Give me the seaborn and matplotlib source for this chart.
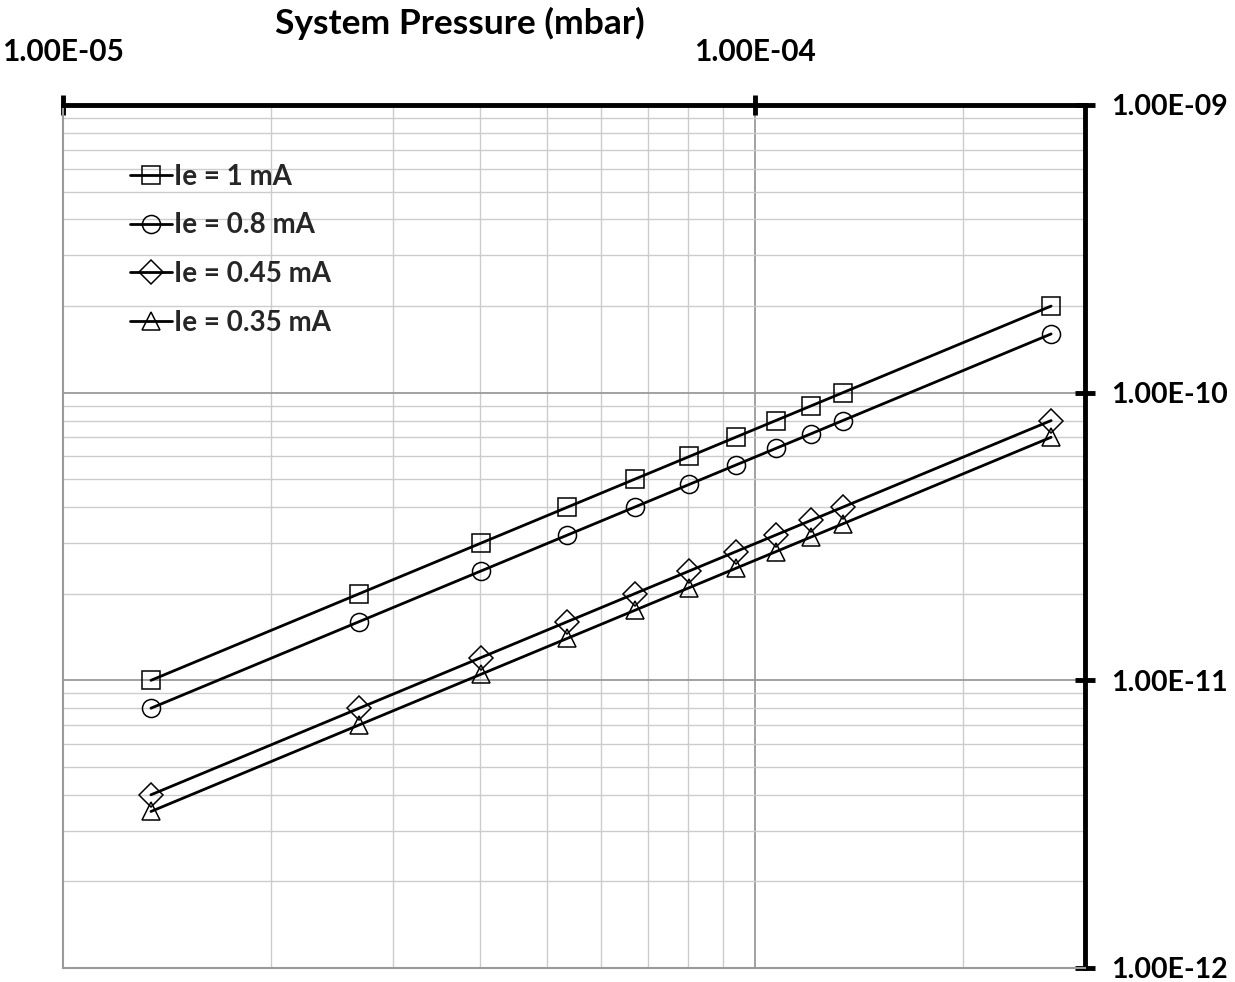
import numpy as np
import pandas as pd
import seaborn as sns
import matplotlib
matplotlib.use("Agg")
import matplotlib.pyplot as plt
from matplotlib.ticker import LogLocator, FixedLocator, FuncFormatter, NullFormatter

# System pressure (mbar) and measured ion current per emission current
pressure = [1.34e-5, 2.68e-5, 4.02e-5, 5.36e-5, 6.70e-5, 8.04e-5,
            9.38e-5, 1.072e-4, 1.206e-4, 1.34e-4, 2.68e-4]
ie_1_0 = [1.0e-11, 2.0e-11, 3.0e-11, 4.0e-11, 5.0e-11, 6.0e-11,
          7.0e-11, 8.0e-11, 9.0e-11, 1.0e-10, 2.0e-10]
ie_0_8 = [8.0e-12, 1.6e-11, 2.4e-11, 3.2e-11, 4.0e-11, 4.8e-11,
          5.6e-11, 6.4e-11, 7.2e-11, 8.0e-11, 1.6e-10]
ie_0_45 = [4.0e-12, 8.0e-12, 1.2e-11, 1.6e-11, 2.0e-11, 2.4e-11,
           2.8e-11, 3.2e-11, 3.6e-11, 4.0e-11, 8.0e-11]
ie_0_35 = [3.5e-12, 7.0e-12, 1.05e-11, 1.4e-11, 1.75e-11, 2.1e-11,
           2.45e-11, 2.8e-11, 3.15e-11, 3.5e-11, 7.0e-11]

series_labels = ["Ie = 1 mA", "Ie = 0.8 mA", "Ie = 0.45 mA", "Ie = 0.35 mA"]
series_values = [ie_1_0, ie_0_8, ie_0_45, ie_0_35]
series_markers = ["s", "o", "D", "^"]
series_msize = [13, 13, 12, 13]

x_ticks = [1e-5, 1e-4]
y_ticks = [1e-12, 1e-11, 1e-10, 1e-9]

sns.set_theme(style="white")
plt.rcParams["font.family"] = ["Lato", "DejaVu Sans"]
plt.rcParams["font.weight"] = "bold"

fig = plt.figure(figsize=(12.35, 9.82), dpi=100)
ax = fig.add_axes([63 / 1235, 1 - 968 / 982, (1085 - 63) / 1235, (968 - 105) / 982])
ax.set_xscale("log")
ax.set_yscale("log")

for label, vals, mk, ms in zip(series_labels, series_values, series_markers, series_msize):
    df = pd.DataFrame({"p": pressure, "i": vals})
    sns.lineplot(data=df, x="p", y="i", ax=ax, color="black", linewidth=2.0,
                 marker=mk, markersize=ms, markerfacecolor="none",
                 markeredgecolor="black", markeredgewidth=1.1, label=label)

ax.set_xlim(1e-5, 3e-4)
ax.set_ylim(1e-12, 1e-9)

# grid: darker decades, lighter sub-decades
ax.xaxis.set_major_locator(FixedLocator(x_ticks))
ax.yaxis.set_major_locator(FixedLocator(y_ticks))
ax.xaxis.set_minor_locator(LogLocator(base=10, subs=np.arange(2, 10), numticks=20))
ax.yaxis.set_minor_locator(LogLocator(base=10, subs=np.arange(2, 10), numticks=20))
ax.grid(which="major", color="#9a9a9a", linewidth=1.3)
ax.grid(which="minor", color="#cccccc", linewidth=1.0)

fmt = FuncFormatter(lambda v, pos: f"{v:.2E}")
ax.xaxis.set_major_formatter(fmt)
ax.yaxis.set_major_formatter(fmt)
ax.xaxis.set_minor_formatter(NullFormatter())
ax.yaxis.set_minor_formatter(NullFormatter())

ax.xaxis.tick_top()
ax.yaxis.tick_right()
ax.tick_params(which="major", direction="inout", length=14, width=3.5, color="black",
               labelcolor="black")
ax.tick_params(axis="x", which="major", pad=21, labelsize=21.5)
ax.tick_params(axis="y", which="major", pad=12, labelsize=20.5)
ax.tick_params(which="minor", length=0)
for lab in ax.get_xticklabels() + ax.get_yticklabels():
    lab.set_fontweight("bold")

for side in ["top", "right"]:
    ax.spines[side].set_color("black")
    ax.spines[side].set_linewidth(3.5)
for side in ["left", "bottom"]:
    ax.spines[side].set_color("#9a9a9a")
    ax.spines[side].set_linewidth(1.5)

ax.set_xlabel("")
ax.set_ylabel("")

fig.text(460 / 1235, 1 - 23 / 982, "System Pressure (mbar)", ha="center", va="center",
         fontsize=25.5, fontweight="bold", color="black")

leg = ax.legend(loc="upper left", bbox_to_anchor=(0.055, 0.945), frameon=False,
                fontsize=20, handlelength=1.5, handletextpad=0.08, labelspacing=0.82,
                borderaxespad=0)
for t in leg.get_texts():
    t.set_fontweight("bold")

fig.savefig("out.png", dpi=100, facecolor="white")
